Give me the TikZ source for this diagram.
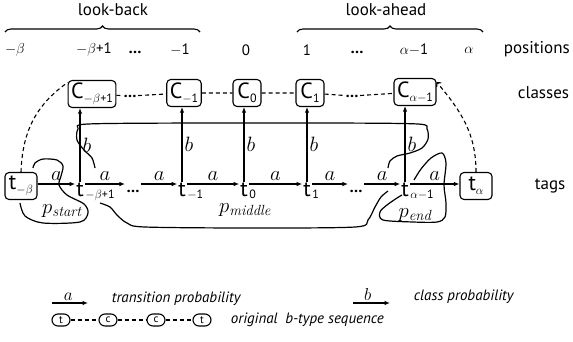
\documentclass[tikz,border=0pt]{standalone}
\usepackage{fontspec}
\setsansfont{PT Sans}
\usepackage{tikz}
\usetikzlibrary{arrows.meta}
\usetikzlibrary{decorations.pathreplacing}

\newcommand{\lowsub}[1]{\raisebox{-4pt}{\fontsize{12}{12}\selectfont #1}}

\tikzset{
  cbox/.style={draw, rounded corners=4pt, font=\sffamily\fontsize{22}{22}\selectfont, inner xsep=3pt, inner ysep=2pt, minimum height=27pt, minimum width=28pt},
  tag/.style={font=\sffamily\fontsize{22}{22}\selectfont, inner sep=0.5pt},
  sub/.style={font=\sffamily\fontsize{12}{12}\selectfont, inner sep=0pt},
  postext/.style={font=\sffamily\fontsize{15}{15}\selectfont},
  dots/.style={font=\sffamily\bfseries\fontsize{16}{16}\selectfont, inner sep=1pt},
  side/.style={font=\sffamily\fontsize{17}{17}\selectfont, anchor=west},
  prob/.style={-{Latex[length=5.5pt,width=4.5pt]}},
  lab/.style={font=\fontsize{20}{20}\selectfont, inner sep=1pt},
  seq/.style={dash pattern=on 4pt off 3pt},
  blob/.style={line width=1.2pt},
  plab/.style={font=\fontsize{21}{21}\selectfont, inner sep=0pt},
  legend/.style={font=\sffamily\itshape\fontsize{15}{15}\selectfont, anchor=west},
  oval/.style={draw, rounded corners=6pt, minimum width=18pt, minimum height=12pt, inner sep=0pt, font=\sffamily\fontsize{11}{11}\selectfont}
}

\begin{document}
\begin{tikzpicture}[x=1pt, y=-1pt, line width=1.1pt]
\useasboundingbox (0,0) rectangle (573,341);

% look-back / look-ahead
\node[side, anchor=center] (lbk) at (113,10) {look-back};
\node[side, anchor=center] (lah) at (386,10) {look-ahead};
\coordinate (lbk1) at (5,32);
\coordinate (lbk2) at (200,32);
\coordinate (lah1) at (297,32);
\coordinate (lah2) at (483,32);
\draw[decorate, decoration={brace, amplitude=6pt}] (lbk1) -- (lbk2);
\draw[decorate, decoration={brace, amplitude=6pt}] (lah1) -- (lah2);

% positions
\node[postext] (pmb) at (15,50) {$-\beta$};
\node[postext] (pmb1) at (94,50) {$-\beta$+1};
\node[dots] (pld) at (135,52) {\dots};
\node[postext] (pm1) at (180,50) {$-$1};
\node[postext] (p0) at (246,50) {0};
\node[postext] (p1) at (307,50) {1};
\node[dots] (prd) at (357,52) {\dots};
\node[postext] (pam1) at (414,50) {$\alpha$$-$1};
\node[postext] (pa) at (469,50) {$\alpha$};
\node[side] (poslab) at (500,49) {positions};

% classes
\node[cbox] (cmb1) at (92,94) {C\lowsub{$-\beta$+1}};
\node[dots] (cld) at (130,96) {\dots};
\node[cbox] (cm1) at (184,93) {C\lowsub{$-$1}};
\node[cbox] (c0) at (247,93) {C\lowsub{0}};
\node[cbox] (c1) at (310,93) {C\lowsub{1}};
\node[dots] (crd) at (352,96) {\dots};
\node[cbox] (cam1) at (415,92) {C\lowsub{$\alpha$$-$1}};
\node[side] (clslab) at (514,93) {classes};
\draw[seq] (cmb1) -- (cld) -- (cm1) -- (c0) -- (c1) -- (crd) -- (cam1);

% tags
\coordinate (row) at (0,184);
\node[cbox, minimum width=32pt] (tmb) at (21,186) {t\lowsub{$-\beta$}};
\node[tag] (tmb1) at (80,190) {t};
\node[sub, anchor=base west] (smb1) at ([yshift=-2pt]tmb1.base east) {$-\beta$+1};
\node[dots] (tld) at (133,191) {\dots};
\node[tag] (tm1) at (182,190) {t};
\node[sub, anchor=base west] (sm1) at ([yshift=-2pt]tm1.base east) {$-$1};
\node[tag] (t0) at (244,190) {t};
\node[sub, anchor=base west] (s0) at ([yshift=-2pt]t0.base east) {0};
\node[tag] (t1) at (307,190) {t};
\node[sub, anchor=base west] (s1) at ([yshift=-2pt]t1.base east) {1};
\node[dots] (trd) at (356,191) {\dots};
\node[tag] (tam1) at (405,190) {t};
\node[sub, anchor=base west] (sam1) at ([yshift=-2pt]tam1.base east) {$\alpha$$-$1};
\node[cbox, minimum width=32pt] (ta) at (476,186) {t\lowsub{$\alpha$}};
\node[side] (taglab) at (531,186) {tags};

% transitions a
\draw[prob] (tmb.east |- row) -- (tmb1.west |- row) node[lab, midway, above=2pt] {$a$};
\draw[prob] (tmb1.east |- row) -- (tld.west |- row) node[lab, midway, above=2pt] {$a$};
\draw[prob] (tld.east |- row) -- (tm1.west |- row) node[lab, midway, above=2pt] {$a$};
\draw[prob] (tm1.east |- row) -- (t0.west |- row) node[lab, midway, above=2pt] {$a$};
\draw[prob] (t0.east |- row) -- (t1.west |- row) node[lab, midway, above=2pt] {$a$};
\draw[prob] (t1.east |- row) -- (trd.west |- row) node[lab, midway, above=2pt] {$a$};
\draw[prob] (trd.east |- row) -- (tam1.west |- row) node[lab, midway, above=2pt] {$a$};
\draw[prob] (tam1.east |- row) -- (ta.west |- row) node[lab, midway, above=2pt] {$a$};

% class probabilities b
\foreach \t/\c in {tmb1/cmb1, tm1/cm1, t0/c0, t1/c1, tam1/cam1}
  \draw[prob] (\t.north) -- (\t.north |- \c.south) node[lab, pos=0.5, right=1pt] {$b$};

% original b-type sequence
\draw[seq] (tmb.north) to[out=88, in=215] (cmb1.155);
\draw[seq, -{Straight Barb[length=3pt]}] (ta.north) to[out=90, in=-50] (cam1.25);

% p_start
\draw[blob] plot[smooth] coordinates {(20,203) (25,216) (43,223) (80,222) (88,213) (84,204) (67,195) (59,185) (61,176) (63,166) (57,160) (43,159) (35,163) (33,168)};
\node[plab] (pst) at (62,211) {$p_{\mathit{start}}$};

% p_middle
\draw[blob] plot[smooth] coordinates {(95,168) (92,158) (84,150) (77,140) (78,129) (88,124) (200,123) (330,123) (418,124) (427,129) (428,139) (422,148) (410,153) (397,156) (390,161) (388,168)};
\draw[blob] plot[smooth] coordinates {(100,203) (110,207) (117,215) (127,223) (145,227) (250,228) (355,227) (368,220) (375,207) (381,197) (388,191)};
\node[plab] (pmd) at (245,210) {$p_{\mathit{middle}}$};

% p_end
\draw[blob] plot[smooth] coordinates {(414,180) (421,169) (431,158) (442,153) (446,163) (444,185) (446,203) (445,217) (437,222) (413,222) (383,220) (380,212) (387,205) (397,198) (402,195)};
\node[plab] (pnd) at (415,215) {$p_{\mathit{end}}$};

% legend
\coordinate (lga1) at (52,303);
\coordinate (lga2) at (88,303);
\coordinate (lgb1) at (353,303);
\coordinate (lgb2) at (390,303);
\draw[prob] (lga1) -- (lga2) node[lab, pos=0.45, above=1pt, font=\fontsize{16}{16}\selectfont] {$a$};
\node[legend] (lgat) at (108,299) {transition probability};
\draw[prob] (lgb1) -- (lgb2) node[lab, pos=0.4, above=1pt, font=\fontsize{16}{16}\selectfont] {$b$};
\node[legend] (lgbt) at (410,297) {class probability};
\node[oval] (o1) at (61,320) {t};
\node[oval] (o2) at (108,320) {c};
\node[oval] (o3) at (156,320) {c};
\node[oval] (o4) at (202,320) {t};
\draw[seq] (o1) -- (o2) -- (o3) -- (o4);
\node[legend] (lgot) at (227,320) {original\enspace b-type sequence};
\end{tikzpicture}
\end{document}
